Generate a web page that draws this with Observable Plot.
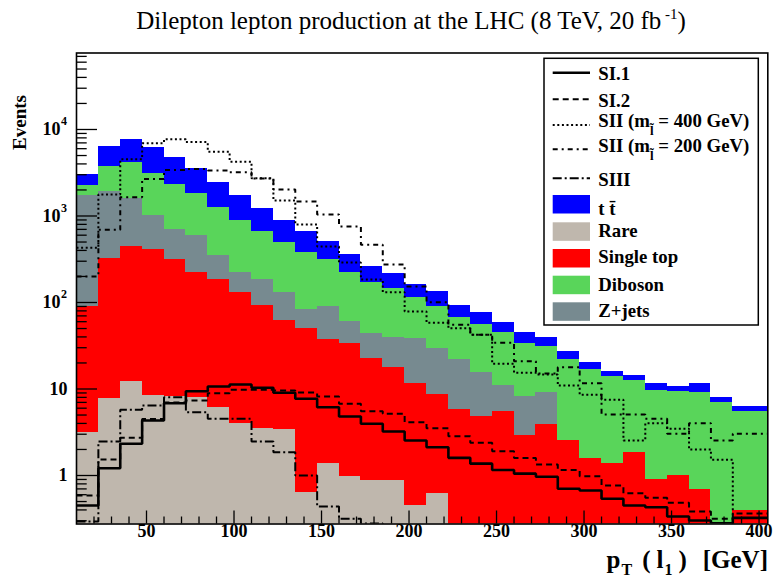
<!DOCTYPE html>
<html>
<head>
<meta charset="utf-8">
<script src="https://cdn.jsdelivr.net/npm/d3@7"></script>
<script src="https://cdn.jsdelivr.net/npm/@observablehq/plot@0.6"></script>
<style>
  html,body{margin:0;padding:0;background:#fff;}
  #chart{width:774px;height:579px;overflow:hidden;background:#fff;}
  #chart svg{display:block;}
</style>
</head>
<body>
<div id="chart">
<svg id="title" width="774" height="40">
  <text x="411" y="29" text-anchor="middle" font-family="Liberation Serif" font-size="25" fill="black">Dilepton lepton production at the LHC (8 TeV, 20 fb<tspan font-size="15" dy="-10"> -1</tspan><tspan dy="10">)</tspan></text>
</svg>
</div>
<script>
// ---------- data ----------
const binEdges = [10,22.5,35,47.5,60,72.5,85,97.5,110,122.5,135,147.5,160,172.5,185,197.5,210,222.5,235,247.5,260,272.5,285,297.5,310,322.5,335,347.5,360,372.5,385,397.5,410];

// backgrounds (per bin, not cumulative)
const rare      = [3.17,7.70,12.2,8.52,8.19,7.91,6.16,3.96,3.47,3.38,0.64,1.37,0.97,0.88,0.88,0.45,0.62,0,0,0,0,0,0,0,0,0,0,0,0,0,0,0];
const singleTop = [86.7,314.9,431.9,399.4,304.2,216.1,177.3,126.5,88.9,58.5,49.4,35.8,32.3,21.6,16.9,11.13,7.95,5.76,4.81,5.47,2.90,3.89,2.54,1.58,1.39,1.85,0.90,1.0,0.69,0.15,0.39,0.39];
const zjets     = [1636,1597,1162,605.5,385.8,371.1,165.9,93.5,90.7,67.5,33.0,52.8,27.0,21.7,21.9,27.1,21.1,16.0,10.6,5.51,5.36,5.30,0,0,0,0,0,0,0,0,0,0];
const diboson   = [527,1815,2494,2111,1615,1234,914,663.2,484.4,368.5,290.5,222.5,163.7,127.5,104.4,76.5,60.3,46.2,40.3,34.4,25.6,21.8,19.1,15.2,12.6,10.7,8.71,8.28,8.49,6.89,5.10,5.10];
const ttbar     = [749,2626,3562,3102,2408,1711,1196,838.6,553.7,389.3,288.5,194.9,134.8,89.1,70.7,45.4,43.0,24.3,20.3,12.6,10.8,8.61,5.64,3.33,1.92,1.71,1.97,1.41,2.46,0.93,0.79,0.79];

// signals
const si1    = [0.450,1.214,2.325,4.32,6.85,9.43,10.69,11.27,10.33,9.04,7.70,6.16,4.81,3.96,3.23,2.54,2.12,1.60,1.37,1.16,1.05,0.966,0.702,0.671,0.538,0.450,0.430,0.336,0.302,0.281,0.324,0.324];
const si2    = [0.587,1.53,2.73,4.5,7.0,7.36,8.94,9.79,9.79,9.61,9.11,8.19,6.74,5.54,5.17,4.13,3.52,2.85,2.39,1.91,1.59,1.34,1.16,0.98,0.766,0.624,0.552,0.484,0.384,0.316,0.364,0.364];
const sii400 = [429,1773,4523,6943,7725,7170,5539,4232,2728,1511,797,444,290,184.5,131.5,78.7,58.3,50.4,42.3,19.6,15.4,14.7,10.98,8.57,7.50,2.54,4.02,3.47,2.00,1.52,0.1,0.1];
const sii200 = [199.8,692.6,1649,2677,3402,3494,3357,3209,2714,2025,1471,1041,756,464.6,275,153.1,100.8,55.2,42.3,34.2,20.96,15.1,17.9,11.67,5.07,5.07,4.52,3.03,4.02,2.54,3.03,3.03];
const siii   = [0.294,2.47,5.74,6.45,8.04,5.39,4.52,4.52,2.47,1.86,1.0,0.438,0.316,0.279,0.1,0.1,0.1,0.1,0.1,0.1,0.1,0.1,0.1,0.1,0.1,0.1,0.1,0.1,0.1,0.1,0.1,0.1];

// axis ticks / labels
const xMajor = [50,100,150,200,250,300,350,400];
const xMinor = d3.range(20, 401, 10).filter(v => v % 50 !== 0);
const yTickVals = [1,10,100,1000,10000];
const yTickBase = ["1","10","10","10","10"];
const yTickExp  = ["","","2","3","4"];
const yMinor = [];
for (let k = -1; k <= 4; k++) for (let m = 2; m <= 9; m++) { const v = m * Math.pow(10, k); if (v >= 0.275 && v <= 76600) yMinor.push(v); }

// ---------- layout ----------
const W = 774, H = 539, mL = 76, mR = 6.7, mT = 12.5, mB = 55.5;
const frameW = W - mL - mR, frameH = H - mT - mB;
const FONT = "Liberation Serif";

const stackOrder = [
  {name: "Rare",       values: rare,      color: "#bfb7ad"},
  {name: "Single top", values: singleTop, color: "#ff0000"},
  {name: "Z+jets",     values: zjets,     color: "#778a90"},
  {name: "Diboson",    values: diboson,   color: "#59d55a"},
  {name: "t t̄",        values: ttbar,     color: "#0000ff"}
];

const yFloor = 0.01;
const cum = rare.map(() => 0);
const stackMarks = stackOrder.map(s => {
  const rows = [];
  s.values.forEach((v, i) => {
    const lo = cum[i], hi = lo + v;
    cum[i] = hi;
    if (v > 0) rows.push({x1: binEdges[i], x2: binEdges[i + 1], y1: Math.max(lo, yFloor), y2: hi});
  });
  return Plot.rect(rows, {x1: "x1", x2: "x2", y1: "y1", y2: "y2", fill: s.color, clip: true, shapeRendering: "crispEdges"});
});

const signals = [
  {name: "SI.1", values: si1,    width: 2.6, dash: null},
  {name: "SI.2", values: si2,    width: 2,   dash: "6,4"},
  {name: "SII400", values: sii400, width: 2, dash: "2,2.6"},
  {name: "SII200", values: sii200, width: 2, dash: "5,4,2,4"},
  {name: "SIII", values: siii,   width: 2,   dash: "9,3,2,3"}
];
function steps(values) {
  const pts = [];
  values.forEach((v, i) => { pts.push({x: binEdges[i], y: v}); pts.push({x: binEdges[i + 1], y: v}); });
  return pts;
}
const lineMarks = signals.map(s => Plot.line(steps(s.values), {
  x: "x", y: "y", stroke: "black", strokeWidth: s.width,
  strokeDasharray: s.dash || undefined, strokeLinejoin: "miter", strokeLinecap: "butt",
  curve: "linear", clip: true
}));

const svg = Plot.plot({
  width: W, height: H,
  marginLeft: mL, marginRight: mR, marginTop: mT, marginBottom: mB,
  x: {domain: [10, 405], axis: null},
  y: {type: "log", domain: [0.275, 76600], axis: null},
  style: {fontFamily: FONT, background: "white", overflow: "visible"},
  marks: [
    ...stackMarks,
    ...lineMarks,
    Plot.tickX(xMinor, {x: d => d, insetTop: frameH - 7, stroke: "black", strokeWidth: 1.3}),
    Plot.tickX(xMajor, {x: d => d, insetTop: frameH - 13, stroke: "black", strokeWidth: 1.3}),
    Plot.tickY(yMinor, {y: d => d, insetRight: frameW - 10.7, stroke: "black", strokeWidth: 1.3}),
    Plot.tickY(yTickVals, {y: d => d, insetRight: frameW - 21, stroke: "black", strokeWidth: 1.3}),
    Plot.frame({stroke: "black", strokeWidth: 1.6}),
    Plot.text(xMajor, {x: d => d, text: d => String(d), frameAnchor: "bottom", dy: 13, fontSize: 18, fontWeight: "bold", fill: "black"}),
    Plot.text(yTickVals.filter((d, i) => !yTickExp[i]), {y: d => d, text: d => yTickBase[yTickVals.indexOf(d)], frameAnchor: "left", textAnchor: "end", dx: -9, fontSize: 18, fontWeight: "bold", fill: "black"}),
    Plot.text(yTickVals.filter((d, i) => yTickExp[i]), {y: d => d, text: d => yTickBase[yTickVals.indexOf(d)], frameAnchor: "left", textAnchor: "end", dx: -16, fontSize: 18, fontWeight: "bold", fill: "black"}),
    Plot.text(yTickVals.filter((d, i) => yTickExp[i]), {y: d => d, text: d => yTickExp[yTickVals.indexOf(d)], frameAnchor: "left", textAnchor: "start", dx: -15.5, dy: -8, fontSize: 12, fontWeight: "bold", fill: "black"})
  ]
});
document.getElementById("chart").appendChild(svg);

// ---------- axis titles & legend (page y minus 40) ----------
const OY = 40;
const root = d3.select(svg);
function richText(g, x, y, parts, opts = {}) {
  const t = g.append("text").attr("x", x).attr("y", y)
    .attr("font-family", FONT).attr("font-weight", "bold")
    .attr("font-size", opts.size || 18.8).attr("fill", "black")
    .attr("text-anchor", opts.anchor || "start");
  if (opts.transform) t.attr("transform", opts.transform);
  let cur = 0;
  parts.forEach(p => {
    const ts = t.append("tspan").text(p.t);
    const target = p.dy || 0;
    if (target !== cur) { ts.attr("dy", target - cur); cur = target; }
    if (p.dx) ts.attr("dx", p.dx);
    if (p.size) ts.attr("font-size", p.size);
  });
  return t;
}
// y title
root.append("text").attr("transform", `translate(26,${95 - OY}) rotate(-90)`)
  .attr("text-anchor", "end").attr("font-family", FONT).attr("font-weight", "bold")
  .attr("font-size", 19).attr("fill", "black").text("Events");
// x title
richText(root, 768, 568 - OY, [
  {t: "p"}, {t: "T", dy: 7, size: 16, dx: 1}, {t: "(", dy: 0, dx: 10}, {t: "l", dx: 6},
  {t: "1", dy: 7, size: 16, dx: 1}, {t: ")", dy: 0, dx: 6}, {t: "[GeV]", dx: 16}
], {size: 25, anchor: "end"});

// legend
const lg = root.append("g");
lg.append("rect").attr("x", 544).attr("y", 58.3 - OY).attr("width", 214.3).attr("height", 266.7)
  .attr("fill", "white").attr("stroke", "black").attr("stroke-width", 1.5);
const lineEntries = [
  {sig: signals[0], ly: 72.7, ty: 80,    parts: [{t: "SI.1"}]},
  {sig: signals[1], ly: 99.3, ty: 106.7, parts: [{t: "SI.2"}]},
  {sig: signals[2], ly: 125,  ty: 127,   parts: [{t: "SII (m"}, {t: "l\u0303", dy: 8, size: 13}, {t: " = 400 GeV)", dy: 0}]},
  {sig: signals[3], ly: 149.3,ty: 152,   parts: [{t: "SII (m"}, {t: "l\u0303", dy: 8, size: 13}, {t: " = 200 GeV)", dy: 0}]},
  {sig: signals[4], ly: 178.3,ty: 186,   parts: [{t: "SIII"}]}
];
lineEntries.forEach(e => {
  const ln = lg.append("line").attr("x1", 552.7).attr("x2", 590).attr("y1", e.ly - OY).attr("y2", e.ly - OY)
    .attr("stroke", "black").attr("stroke-width", e.sig.width);
  if (e.sig.dash) ln.attr("stroke-dasharray", e.sig.dash);
  richText(lg, 598.3, e.ty - OY, e.parts);
});
const fillEntries = [
  {s: stackOrder[4], by: 195,   ty: 214.5, label: "t t\u0304"},
  {s: stackOrder[0], by: 222.3, ty: 236.7, label: "Rare"},
  {s: stackOrder[1], by: 249,   ty: 262.7, label: "Single top"},
  {s: stackOrder[3], by: 275.7, ty: 290.5, label: "Diboson"},
  {s: stackOrder[2], by: 302.3, ty: 316.7, label: "Z+jets"}
];
fillEntries.forEach(e => {
  lg.append("rect").attr("x", 552.7).attr("y", e.by - OY).attr("width", 37.3).attr("height", 18.5).attr("fill", e.s.color);
  richText(lg, 598.3, e.ty - OY, [{t: e.label}]);
});
</script>
</body>
</html>
